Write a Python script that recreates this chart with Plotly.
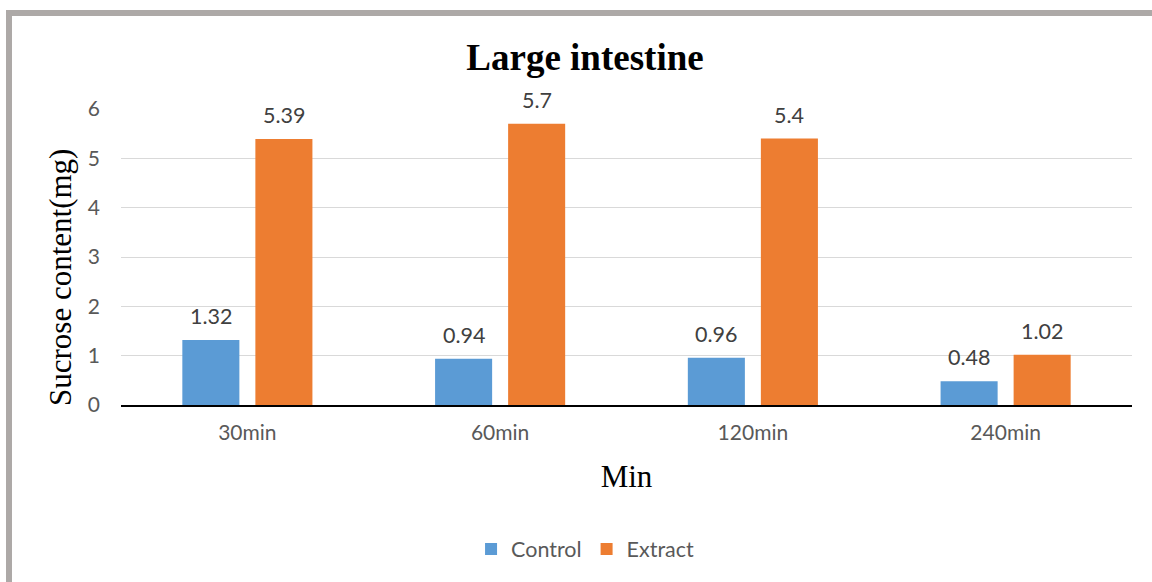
import plotly.graph_objects as go

categories = ["30min", "60min", "120min", "240min"]
control = [1.32, 0.94, 0.96, 0.48]
extract = [5.39, 5.7, 5.4, 1.02]
control_labels = ["1.32", "0.94", "0.96", "0.48"]
extract_labels = ["5.39", "5.7", "5.4", "1.02"]

BLUE = "#5B9BD5"
ORANGE = "#ED7D31"
SANS = "Lato, Carlito, 'Open Sans', sans-serif"
TICK_FONT = dict(family=SANS, size=21, color="#595959")
LEGEND_FONT = dict(family=SANS, size=21.5, color="#595959")
LABEL_FONT = dict(family=SANS, size=21.5, color="#404040")
SERIF = "'Liberation Serif', 'Times New Roman', serif"

fig = go.Figure()
fig.add_trace(go.Bar(name="Control", x=categories, y=control, marker=dict(color=BLUE, line=dict(width=0))))
fig.add_trace(go.Bar(name="Extract", x=categories, y=extract, marker=dict(color=ORANGE, line=dict(width=0))))

# plot area: x 121..1132 px, y 109..405 px
W, H = 1152, 582
L, R, T, B = 121, 20, 109, 177
pw, ph = W - L - R, H - T - B

def px_x(p):
    return (p - L) / pw

def px_y(p):
    return (H - B - p) / ph

annotations = []
for c, v, t in zip(categories, control, control_labels):
    annotations.append(dict(x=c, y=v, text=t, xref="x", yref="y", showarrow=False,
                            xshift=-36.5, yshift=24, yanchor="middle", font=LABEL_FONT))
for c, v, t in zip(categories, extract, extract_labels):
    annotations.append(dict(x=c, y=v, text=t, xref="x", yref="y", showarrow=False,
                            xshift=36.5, yshift=24, yanchor="middle", font=LABEL_FONT))
annotations.append(dict(x=px_x(60), y=px_y(278), xref="paper", yref="paper", showarrow=False,
                        text="Sucrose content(mg)", textangle=-90, xanchor="center", yanchor="middle",
                        font=dict(family=SERIF, size=31, color="black")))

border = "#ADA9A7"
shapes = [
    dict(type="rect", xref="paper", yref="paper", x0=px_x(6), x1=px_x(1152), y0=px_y(16), y1=px_y(10),
         fillcolor=border, line=dict(width=0), layer="below"),
    dict(type="rect", xref="paper", yref="paper", x0=px_x(6), x1=px_x(12), y0=px_y(582), y1=px_y(10),
         fillcolor=border, line=dict(width=0), layer="below"),
]

fig.update_layout(
    width=W, height=H,
    margin=dict(l=L, r=R, t=T, b=B),
    paper_bgcolor="white", plot_bgcolor="white",
    barmode="group", bargap=0.422, bargroupgap=0.219,
    title=dict(text="<b>Large intestine</b>", x=585 / W, xanchor="center", y=1 - 57 / H, yanchor="middle",
               font=dict(family=SERIF, size=37, color="black")),
    xaxis=dict(showline=True, linecolor="black", linewidth=1.5, ticks="", tickfont=TICK_FONT,
               ticklabelstandoff=8,
               title=dict(text="Min", font=dict(family=SERIF, size=31, color="black"), standoff=22)),
    yaxis=dict(range=[0, 6], dtick=1, showgrid=True, gridcolor="#D9D9D9", gridwidth=1.3, zeroline=False,
               showline=False, ticks="", tickfont=TICK_FONT, ticklabelstandoff=20),
    legend=dict(orientation="h", x=0.459, xanchor="center", y=px_y(549), yanchor="middle",
                font=LEGEND_FONT, itemwidth=30, traceorder="normal"),
    annotations=annotations,
    shapes=shapes,
)

fig.write_html("out.html", config={"displayModeBar": False},
               post_script="document.body.style.margin='0';")
